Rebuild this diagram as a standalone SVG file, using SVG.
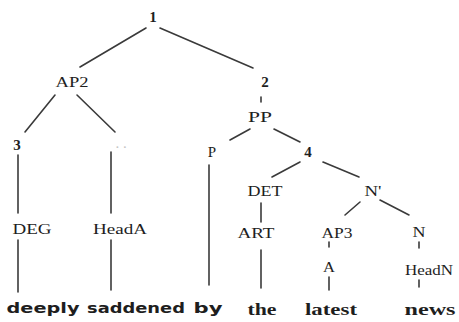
<svg xmlns="http://www.w3.org/2000/svg" width="459" height="322" viewBox="0 0 459 322">
<style>
text{fill:#1e1e1e;text-anchor:middle}
.lab{font-family:"Liberation Serif",serif;font-size:15px}
.num{font-family:"Liberation Serif",serif;font-size:15px;font-weight:bold}
.ws{font-family:"DejaVu Sans",sans-serif;font-size:14px;font-weight:bold}
.wr{font-family:"Liberation Serif",serif;font-size:16px;font-weight:bold}
.faint{fill:#c4c4c4}
#edges line{stroke:#3a3a3a;stroke-width:1.6;stroke-linecap:round}
</style>
<rect width="459" height="322" fill="#fff"/>
<g id="edges">
<line x1="146" y1="28" x2="80" y2="67"/>
<line x1="160" y1="28" x2="253" y2="68"/>
<line x1="55" y1="95" x2="25" y2="132"/>
<line x1="77" y1="95" x2="115" y2="132"/>
<line x1="18" y1="155" x2="18" y2="213"/>
<line x1="18" y1="240" x2="18" y2="292"/>
<line x1="111" y1="152" x2="111" y2="213"/>
<line x1="111" y1="240" x2="111" y2="290"/>
<line x1="261" y1="97" x2="261" y2="102"/>
<line x1="250" y1="129" x2="230" y2="140"/>
<line x1="274" y1="129" x2="300" y2="142"/>
<line x1="209" y1="165" x2="209" y2="285"/>
<line x1="300" y1="162" x2="272" y2="177"/>
<line x1="323" y1="162" x2="359" y2="177"/>
<line x1="261" y1="203" x2="261" y2="222"/>
<line x1="261" y1="250" x2="261" y2="288"/>
<line x1="360" y1="202" x2="345" y2="215"/>
<line x1="380" y1="200" x2="409" y2="215"/>
<line x1="329" y1="242" x2="329" y2="247"/>
<line x1="329" y1="277" x2="329" y2="290"/>
<line x1="419" y1="242" x2="419" y2="248"/>
<line x1="419" y1="280" x2="419" y2="287"/>
</g>
<g id="n1"><text class="num" x="153" y="22">1</text></g>
<g id="nAP2"><text class="lab" x="72" y="87" textLength="33" lengthAdjust="spacingAndGlyphs">AP2</text></g>
<g id="n3"><text class="num" x="17" y="150">3</text></g>
<g id="nfaint"><text class="lab faint" x="121" y="148">. .</text></g>
<g id="n2"><text class="num" x="265" y="87">2</text></g>
<g id="nPP"><text class="lab" x="260" y="122" textLength="24" lengthAdjust="spacingAndGlyphs">PP</text></g>
<g id="nP"><text class="lab" x="212" y="157">P</text></g>
<g id="n4"><text class="num" x="308" y="157">4</text></g>
<g id="nDET"><text class="lab" x="265" y="196" textLength="35" lengthAdjust="spacingAndGlyphs">DET</text></g>
<g id="nNbar"><text class="lab" x="373" y="196" textLength="17" lengthAdjust="spacingAndGlyphs">N'</text></g>
<g id="nART"><text class="lab" x="256" y="238" textLength="37" lengthAdjust="spacingAndGlyphs">ART</text></g>
<g id="nAP3"><text class="lab" x="337" y="238" textLength="31" lengthAdjust="spacingAndGlyphs">AP3</text></g>
<g id="nN"><text class="lab" x="419" y="237" textLength="13" lengthAdjust="spacingAndGlyphs">N</text></g>
<g id="nA"><text class="lab" x="329" y="272" textLength="12" lengthAdjust="spacingAndGlyphs">A</text></g>
<g id="nHeadN"><text class="lab" x="429" y="275" textLength="48" lengthAdjust="spacingAndGlyphs">HeadN</text></g>
<g id="nDEG"><text class="lab" x="32" y="234" textLength="39" lengthAdjust="spacingAndGlyphs">DEG</text></g>
<g id="nHeadA"><text class="lab" x="120" y="234" textLength="54" lengthAdjust="spacingAndGlyphs">HeadA</text></g>
<g id="w1"><text class="ws" x="43" y="313" textLength="73" lengthAdjust="spacingAndGlyphs">deeply</text></g>
<g id="w2"><text class="ws" x="136" y="313" textLength="98" lengthAdjust="spacingAndGlyphs">saddened</text></g>
<g id="w3"><text class="ws" x="208" y="313" textLength="29" lengthAdjust="spacingAndGlyphs">by</text></g>
<g id="w4"><text class="wr" x="262" y="315" textLength="29" lengthAdjust="spacingAndGlyphs">the</text></g>
<g id="w5"><text class="wr" x="331" y="315" textLength="52" lengthAdjust="spacingAndGlyphs">latest</text></g>
<g id="w6"><text class="wr" x="430" y="315" textLength="51" lengthAdjust="spacingAndGlyphs">news</text></g>
</svg>
